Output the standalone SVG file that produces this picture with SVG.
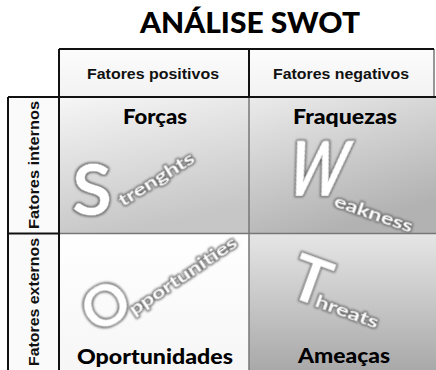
<svg xmlns="http://www.w3.org/2000/svg" width="436" height="370" viewBox="0 0 436 370">
<defs>
<linearGradient id="gS" x1="0" y1="0" x2="0.3" y2="1"><stop offset="0" stop-color="#f6f6f6"/><stop offset="1" stop-color="#c6c6c6"/></linearGradient>
<linearGradient id="gW" x1="0" y1="0" x2="0.4" y2="1"><stop offset="0" stop-color="#ebebeb"/><stop offset="1" stop-color="#b2b2b2"/></linearGradient>
<linearGradient id="gO" x1="0" y1="0" x2="0" y2="1"><stop offset="0" stop-color="#ffffff"/><stop offset="1" stop-color="#f6f6f6"/></linearGradient>
<linearGradient id="gT" x1="0" y1="0" x2="0" y2="1"><stop offset="0" stop-color="#e6e6e6"/><stop offset="1" stop-color="#a9a9a9"/></linearGradient>
<linearGradient id="gH" x1="0" y1="0" x2="0" y2="1"><stop offset="0" stop-color="#fcfcfc"/><stop offset="1" stop-color="#f2f2f2"/></linearGradient>
<filter id="glow" x="-30%" y="-30%" width="160%" height="160%">
<feMorphology in="SourceAlpha" operator="dilate" radius="0.7" result="d"/>
<feGaussianBlur in="d" stdDeviation="1.2" result="b"/>
<feFlood flood-color="#6a6a6a"/>
<feComposite in2="b" operator="in" result="s"/>
<feMerge><feMergeNode in="s"/><feMergeNode in="SourceGraphic"/></feMerge>
</filter>
<style>
.hd{font-family:"Liberation Sans",Arial,sans-serif;font-weight:bold;font-size:15.5px;fill:#111;text-anchor:middle}
.q{font-family:Lato,"Open Sans",sans-serif;font-weight:900;font-size:20px;fill:#000;text-anchor:middle}
.big{font-family:Lato,"Open Sans",sans-serif;font-weight:bold;fill:#fff;stroke:#aaa;stroke-width:0.5;filter:url(#glow)}
.sm{font-family:Lato,"Open Sans",sans-serif;font-weight:bold;font-size:17px;fill:#fff;stroke:#aaa;stroke-width:0.3;filter:url(#glow)}
.dk{stroke:#111;stroke-width:2;fill:none}
.lt{stroke:#777;stroke-width:1.5;fill:none}
</style>
</defs>
<rect width="436" height="370" fill="#fff"/>
<g id="title"><text x="250" y="33" font-family="Lato,'Open Sans',sans-serif" font-weight="900" font-size="29" fill="#000" text-anchor="middle" textLength="220" lengthAdjust="spacingAndGlyphs">ANÁLISE SWOT</text></g>
<g id="header">
<rect x="59" y="49" width="375" height="48" fill="url(#gH)"/>
<text class="hd" x="153" y="79" textLength="132" lengthAdjust="spacingAndGlyphs">Fatores positivos</text>
<text class="hd" x="341" y="79" textLength="136" lengthAdjust="spacingAndGlyphs">Fatores negativos</text>
</g>
<g id="forcas">
<rect x="59" y="97" width="190" height="136" fill="url(#gS)"/>
<text class="q" x="155" y="124" textLength="64" lengthAdjust="spacingAndGlyphs">Forças</text>
<text class="big" x="72" y="215" font-size="70" textLength="40" lengthAdjust="spacingAndGlyphs">S</text>
<text class="sm" transform="translate(123 207) rotate(-32)" textLength="86" lengthAdjust="spacingAndGlyphs">trenghts</text>
</g>
<g id="fraquezas">
<rect x="249" y="97" width="187" height="136" fill="url(#gW)"/>
<text class="q" x="345" y="124" textLength="104" lengthAdjust="spacingAndGlyphs">Fraquezas</text>
<text class="big" transform="translate(283 196) skewX(-14)" font-size="76" textLength="58" lengthAdjust="spacingAndGlyphs">W</text>
<text class="sm" transform="translate(333 206) rotate(19)" textLength="82" lengthAdjust="spacingAndGlyphs">eakness</text>
</g>
<g id="oportunidades">
<rect x="59" y="233" width="190" height="137" fill="url(#gO)"/>
<text class="q" x="155" y="364" textLength="156" lengthAdjust="spacingAndGlyphs">Oportunidades</text>
<text class="big" transform="translate(106 306) rotate(-30)" font-size="58" text-anchor="middle" dy="20">O</text>
<text class="sm" font-size="16" transform="translate(134 316) rotate(-34)" textLength="126" lengthAdjust="spacingAndGlyphs">pportunities</text>
</g>
<g id="ameacas">
<rect x="249" y="233" width="187" height="137" fill="url(#gT)"/>
<text class="q" x="344" y="363" textLength="92" lengthAdjust="spacingAndGlyphs">Ameaças</text>
<text class="big" transform="translate(311 281) rotate(20)" font-size="64" text-anchor="middle" dy="22">T</text>
<text class="sm" transform="translate(314 306) rotate(20)" textLength="66" lengthAdjust="spacingAndGlyphs">hreats</text>
</g>
<g id="internos">
<rect x="8" y="97" width="51" height="136" fill="#fafafa"/>
<text class="hd" transform="translate(39 165) rotate(-90)" textLength="128" lengthAdjust="spacingAndGlyphs">Fatores internos</text>
</g>
<g id="externos">
<rect x="8" y="234" width="51" height="136" fill="#fafafa"/>
<text class="hd" transform="translate(39 302) rotate(-90)" textLength="128" lengthAdjust="spacingAndGlyphs">Fatores externos</text>
</g>
<g id="lines">
<path class="lt" d="M249 97V370M59 233.5H436M434 49V97"/>
<path class="dk" d="M59 49H434M59 49V370M249 49V97M8 97H436M8 97V370M8 233.5H59"/>
</g>
</svg>
